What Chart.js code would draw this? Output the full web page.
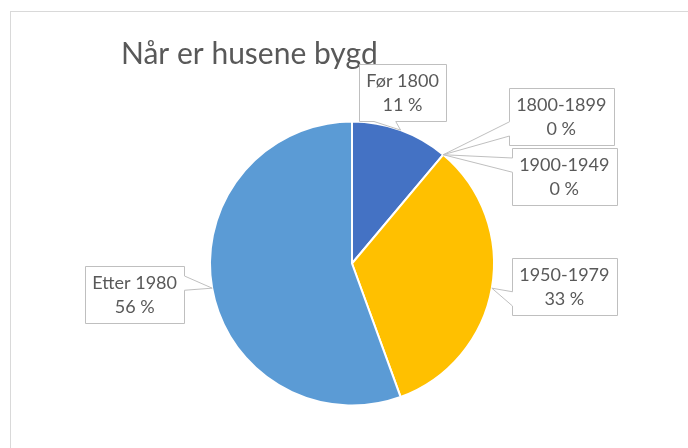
<!DOCTYPE html>
<html>
<head>
<meta charset="utf-8">
<title>Når er husene bygd</title>
<script src="https://cdn.jsdelivr.net/npm/chart.js@4.4.0/dist/chart.umd.min.js"></script>
<style>
  html, body { margin: 0; padding: 0; background: #fff; overflow: hidden; }
  #frame { position: absolute; left: 10px; top: 11px; width: 700px; height: 460px; border: 1px solid #d9d9d9; }
  #chart { position: absolute; left: 0; top: 0; }
</style>
</head>
<body>
<div id="frame"></div>
<canvas id="chart" width="688" height="448"></canvas>
<script>
const categories = ["Før 1800", "1800-1899", "1900-1949", "1950-1979", "Etter 1980"];
const houseCounts = [1, 0, 0, 3, 5];
const sliceColors = ["#4472c4", "#ed7d31", "#a5a5a5", "#ffc000", "#5b9bd5"];
// where each callout box centre sits, measured from the point on the slice edge
const calloutOffsets = [[2, -37.5], [118, -38.5], [121, 22], [72.5, -1.5], [-77.5, 6]];

const textColor = "#595959";
const padX = 7.5, padY = 4.5, lineH = 24;

// same wedge geometry as Office's wedgeRectCallout
function calloutPath(ctx, l, t, r, b, px, py) {
  const w = r - l, h = b - t;
  const dx = px - (l + r) / 2, dy = py - (t + b) / 2;
  const vertical = Math.abs(dy) - Math.abs(dx * h / w) > 0;
  const x1 = l + w * (dx > 0 ? 7 : 2) / 12, x2 = l + w * (dx > 0 ? 10 : 5) / 12;
  const y1 = t + h * (dy > 0 ? 7 : 2) / 12, y2 = t + h * (dy > 0 ? 10 : 5) / 12;
  ctx.beginPath();
  ctx.moveTo(l, t);
  if (vertical && dy < 0) { ctx.lineTo(x1, t); ctx.lineTo(px, py); ctx.lineTo(x2, t); }
  ctx.lineTo(r, t);
  if (!vertical && dx > 0) { ctx.lineTo(r, y1); ctx.lineTo(px, py); ctx.lineTo(r, y2); }
  ctx.lineTo(r, b);
  if (vertical && dy > 0) { ctx.lineTo(x2, b); ctx.lineTo(px, py); ctx.lineTo(x1, b); }
  ctx.lineTo(l, b);
  if (!vertical && dx < 0) { ctx.lineTo(l, y2); ctx.lineTo(px, py); ctx.lineTo(l, y1); }
  ctx.closePath();
}

const calloutPlugin = {
  id: "callouts",
  afterDatasetsDraw(chart) {
    const ctx = chart.ctx;
    const total = houseCounts.reduce((a, b) => a + b, 0);
    ctx.save();

    ctx.font = "30px Lato";
    ctx.fillStyle = textColor;
    ctx.textAlign = "left";
    ctx.textBaseline = "alphabetic";
    ctx.fillText("Når er husene bygd", 121, 64);

    ctx.font = "18px Lato";
    ctx.textAlign = "center";
    ctx.textBaseline = "middle";
    chart.getDatasetMeta(0).data.forEach((arc, i) => {
      const p = arc.getProps(["x", "y", "startAngle", "endAngle", "outerRadius"], true);
      const mid = (p.startAngle + p.endAngle) / 2;
      const tipX = p.x + Math.cos(mid) * p.outerRadius;
      const tipY = p.y + Math.sin(mid) * p.outerRadius;
      const lines = [categories[i], Math.round(houseCounts[i] / total * 100) + " %"];
      const w = Math.max(...lines.map(s => ctx.measureText(s).width)) + 2 * padX;
      const h = lines.length * lineH + 2 * padY;
      const cx = tipX + calloutOffsets[i][0], cy = tipY + calloutOffsets[i][1];
      const l = Math.round(cx - w / 2) + 0.5, t = Math.round(cy - h / 2) + 0.5;
      const r = Math.round(cx + w / 2) + 0.5, b = Math.round(cy + h / 2) + 0.5;

      calloutPath(ctx, l, t, r, b, tipX, tipY);
      ctx.fillStyle = "#fff";
      ctx.fill();
      ctx.strokeStyle = "#bfbfbf";
      ctx.lineWidth = 1;
      ctx.stroke();

      ctx.fillStyle = textColor;
      lines.forEach((s, k) => ctx.fillText(s, cx, t + padY + lineH * (k + 0.5)));
    });
    ctx.restore();
  }
};

new Chart(document.getElementById("chart"), {
  type: "pie",
  data: {
    labels: categories,
    datasets: [{
      data: houseCounts,
      backgroundColor: sliceColors,
      borderColor: "#fff",
      borderWidth: 2,
      hoverOffset: 0,
      radius: 142
    }]
  },
  options: {
    responsive: false,
    animation: false,
    events: [],
    layout: { padding: { left: 116, right: 100, top: 109, bottom: 30 } },
    plugins: { legend: { display: false }, tooltip: { enabled: false } }
  },
  plugins: [calloutPlugin]
});
</script>
</body>
</html>
